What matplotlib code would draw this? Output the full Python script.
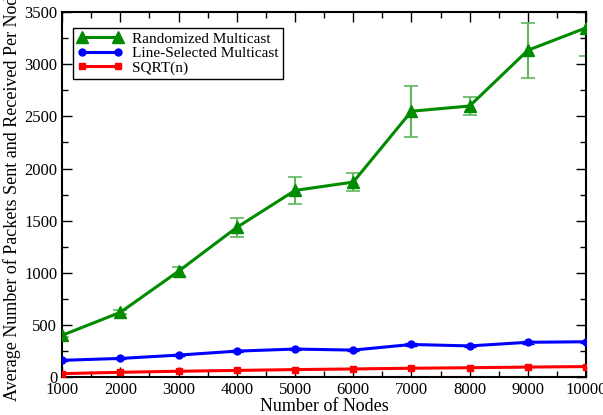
import matplotlib
matplotlib.use('Agg')
import matplotlib.pyplot as plt
from matplotlib.ticker import MultipleLocator

plt.rcParams['font.family'] = ['Liberation Serif', 'DejaVu Serif']

nodes = [1000, 2000, 3000, 4000, 5000, 6000, 7000, 8000, 9000, 10000]
randomized = [400, 620, 1015, 1435, 1790, 1870, 2550, 2600, 3135, 3350]
randomized_err = [20, 20, 45, 95, 130, 90, 245, 85, 262, 270]
line_selected = [160, 178, 210, 248, 268, 258, 312, 298, 333, 338]
line_selected_err = [6, 6, 8, 8, 8, 8, 15, 8, 14, 12]
sqrt_n = [32, 45, 55, 63, 71, 77, 84, 89, 95, 100]

fig = plt.figure(figsize=(6.03, 4.15), dpi=100)
ax = fig.add_axes([0.103, 0.0916, 0.869, 0.879])

green = '#008b00'
# error bars first, lines on top
ax.errorbar(nodes, randomized, yerr=randomized_err, fmt='none',
            ecolor='#5fb85f', elinewidth=1.5, capsize=5, capthick=1.2, zorder=2)
ax.errorbar(nodes, line_selected, yerr=line_selected_err, fmt='none',
            ecolor='#0000ff', elinewidth=1.2, capsize=4, zorder=2)
l1, = ax.plot(nodes, randomized, color=green, lw=2.2, marker='^', ms=9,
              label='Randomized Multicast', zorder=3)
l2, = ax.plot(nodes, line_selected, color='#0000ff', lw=2.2, marker='o', ms=5,
              label='Line-Selected Multicast', zorder=3)
l3, = ax.plot(nodes, sqrt_n, color='#ff0000', lw=2.2, marker='s', ms=4,
              label='SQRT(n)', zorder=3)

ax.set_xlim(1000, 10000)
ax.set_ylim(0, 3500)
ax.xaxis.set_major_locator(MultipleLocator(1000))
ax.xaxis.set_minor_locator(MultipleLocator(500))
ax.yaxis.set_major_locator(MultipleLocator(500))
ax.yaxis.set_minor_locator(MultipleLocator(250))
ax.tick_params(which='both', direction='in', top=True, right=True, labelsize=12)
ax.tick_params(which='major', length=7, width=1)
ax.tick_params(which='minor', length=4, width=1)
for s in ax.spines.values():
    s.set_linewidth(1.5)

ax.set_xlabel('Number of Nodes', fontsize=13, labelpad=0)
ax.set_ylabel('Average Number of Packets Sent and Received Per Node', fontsize=13, labelpad=2)

leg = ax.legend(handles=[l1, l2, l3], loc='upper left', bbox_to_anchor=(0.02, 0.958),
                borderaxespad=0, numpoints=2, fontsize=11, fancybox=False,
                framealpha=1, edgecolor='black', handlelength=3, borderpad=0.3,
                labelspacing=0.05, handletextpad=0.6)
leg.get_frame().set_linewidth(1)

fig.savefig('out.png', dpi=100)
